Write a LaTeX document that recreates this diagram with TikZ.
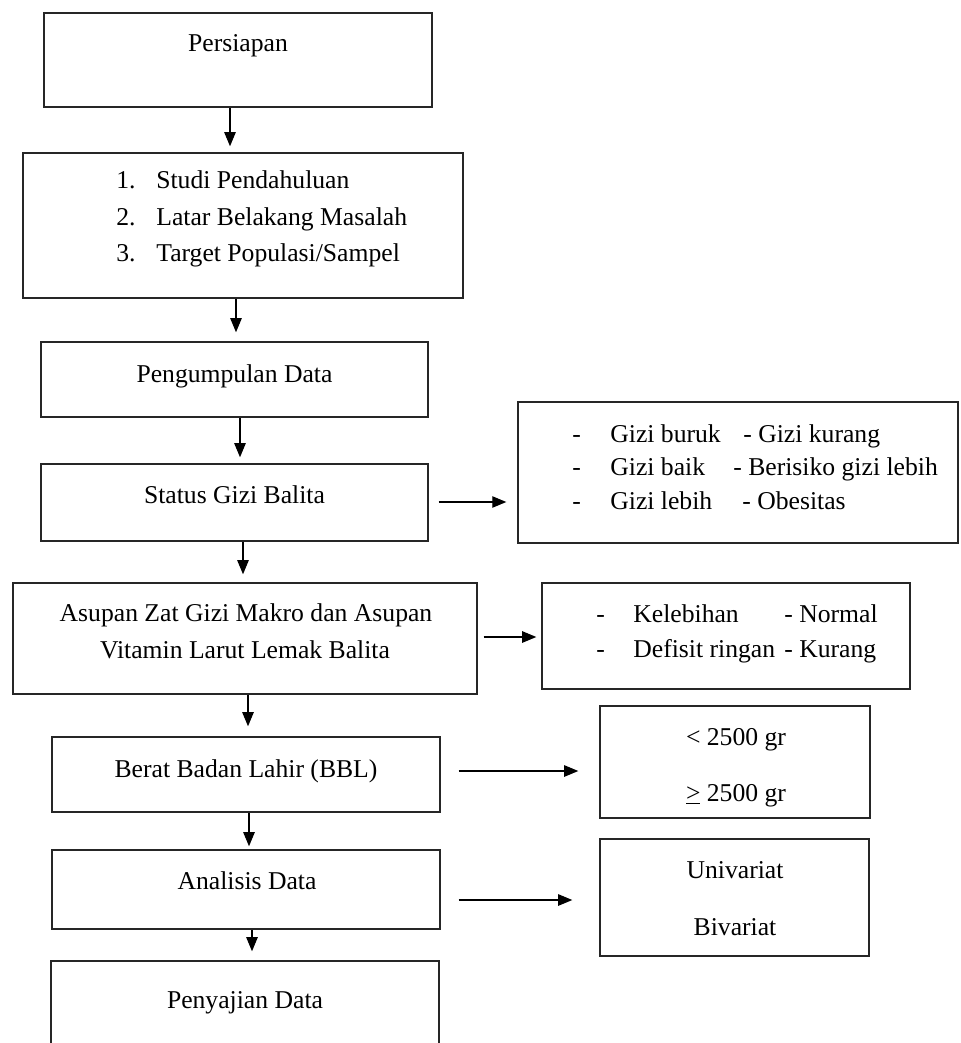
\documentclass[tikz,border=0pt]{standalone}
\usepackage{fontspec}
\setmainfont{Liberation Serif}
\usetikzlibrary{arrows.meta}
\begin{document}
\begin{tikzpicture}[x=0.02cm,y=-0.02cm,
  box/.style={draw=black!85, line width=0.85pt, rectangle, inner sep=0pt},
  txt/.style={inner sep=0pt, font=\fontsize{14.6pt}{17pt}\selectfont},
  arr/.style={-{Triangle[length=8pt,width=6.5pt]}, line width=0.65pt, black}]
\fill[white] (0,0) rectangle (960,1043);
\useasboundingbox (0,0) rectangle (960,1043);

% main boxes
\node[box, minimum width=7.76cm, minimum height=1.88cm] (b1) at (238,60) {};
\node[box, minimum width=8.8cm, minimum height=2.9cm] (b2) at (243,225.5) {};
\node[box, minimum width=7.74cm, minimum height=1.5cm] (b3) at (234.5,379.5) {};
\node[box, minimum width=7.74cm, minimum height=1.54cm] (b4) at (234.5,502.5) {};
\node[box, minimum width=8.8cm, minimum height=2.82cm] (g) at (738,472.5) {};
\node[box, minimum width=9.28cm, minimum height=2.22cm] (b6) at (245,638.5) {};
\node[box, minimum width=7.36cm, minimum height=2.12cm] (k) at (726,636) {};
\node[box, minimum width=7.76cm, minimum height=1.5cm] (b8) at (246,774.5) {};
\node[box, minimum width=5.4cm, minimum height=2.24cm] (w) at (735,762) {};
\node[box, minimum width=7.76cm, minimum height=1.58cm] (b10) at (246,889.5) {};
\node[box, minimum width=5.38cm, minimum height=2.34cm] (u) at (734.5,897.5) {};
\node[box, minimum width=7.76cm, minimum height=2.4cm] (b12) at (245,1021) {};

% texts
\node[txt, anchor=base] (t1) at (238,52) {Persiapan};
\node[txt, anchor=base east] (n1) at (136,189) {1.};
\node[txt, anchor=base east] (n2) at (136,226) {2.};
\node[txt, anchor=base east] (n3) at (136,262) {3.};
\node[txt, anchor=base west] (l1) at (156,189) {Studi Pendahuluan};
\node[txt, anchor=base west] (l2) at (156,226) {Latar Belakang Masalah};
\node[txt, anchor=base west] (l3) at (156,262) {Target Populasi/Sampel};
\node[txt, anchor=base] (t3) at (234.5,382) {Pengumpulan Data};
\node[txt, anchor=base] (t4) at (234.5,503) {Status Gizi Balita};

\node[txt, anchor=base west] (gd1) at (572,442) {-};
\node[txt, anchor=base west] (gd2) at (572,475) {-};
\node[txt, anchor=base west] (gd3) at (572,509) {-};
\node[txt, anchor=base west] (ga1) at (610,442) {Gizi buruk};
\node[txt, anchor=base west] (ga2) at (610,475) {Gizi baik};
\node[txt, anchor=base west] (ga3) at (610,509) {Gizi lebih};
\node[txt, anchor=base west] (gb1) at (743,442) {- Gizi kurang};
\node[txt, anchor=base west] (gb2) at (733,475) {- Berisiko gizi lebih};
\node[txt, anchor=base west] (gb3) at (742,509) {- Obesitas};

\node[txt, anchor=base] (t6a) at (246,621) {Asupan Zat Gizi Makro dan Asupan};
\node[txt, anchor=base] (t6b) at (245,658) {Vitamin Larut Lemak Balita};

\node[txt, anchor=base west] (kd1) at (596,622) {-};
\node[txt, anchor=base west] (kd2) at (596,657) {-};
\node[txt, anchor=base west] (ka1) at (633,622) {Kelebihan};
\node[txt, anchor=base west] (ka2) at (633,657) {Defisit ringan};
\node[txt, anchor=base west] (kb1) at (784,622) {- Normal};
\node[txt, anchor=base west] (kb2) at (784,657) {- Kurang};

\node[txt, anchor=base] (t8) at (246,777) {Berat Badan Lahir (BBL)};
\node[txt, anchor=base] (w1) at (736,745) {< 2500 gr};
\node[txt, anchor=base] (w2) at (736,801) {\underline{>} 2500 gr};
\node[txt, anchor=base] (t10) at (247,889) {Analisis Data};
\node[txt, anchor=base] (u1) at (735,878) {Univariat};
\node[txt, anchor=base] (u2) at (735,935) {Bivariat};
\node[txt, anchor=base] (t12) at (245,1008) {Penyajian Data};

% vertical arrows
\draw[arr, shorten >=0.12cm] (b1.south -| 230,0) -- (b2.north -| 230,0);
\draw[arr, shorten >=0.18cm] (b2.south -| 236,0) -- (b3.north -| 236,0);
\draw[arr, shorten >=0.12cm] (b3.south -| 240,0) -- (b4.north -| 240,0);
\draw[arr, shorten >=0.16cm] (b4.south -| 243,0) -- (b6.north -| 243,0);
\draw[arr, shorten >=0.2cm] (b6.south -| 248,0) -- (b8.north -| 248,0);
\draw[arr, shorten >=0.06cm] (b8.south -| 249,0) -- (b10.north -| 249,0);
\draw[arr, shorten >=0.18cm] (b10.south -| 252,0) -- (b12.north -| 252,0);

% horizontal arrows
\draw[arr, shorten <=0.2cm, shorten >=0.22cm] (b4.east |- 0,502) -- (g.west |- 0,502);
\draw[arr, shorten <=0.12cm, shorten >=0.1cm] (b6.east |- 0,637) -- (k.west |- 0,637);
\draw[arr, shorten <=0.36cm, shorten >=0.42cm] (b8.east |- 0,771) -- (w.west |- 0,771);
\draw[arr, shorten <=0.36cm, shorten >=0.54cm] (b10.east |- 0,900) -- (u.west |- 0,900);
\end{tikzpicture}
\end{document}
